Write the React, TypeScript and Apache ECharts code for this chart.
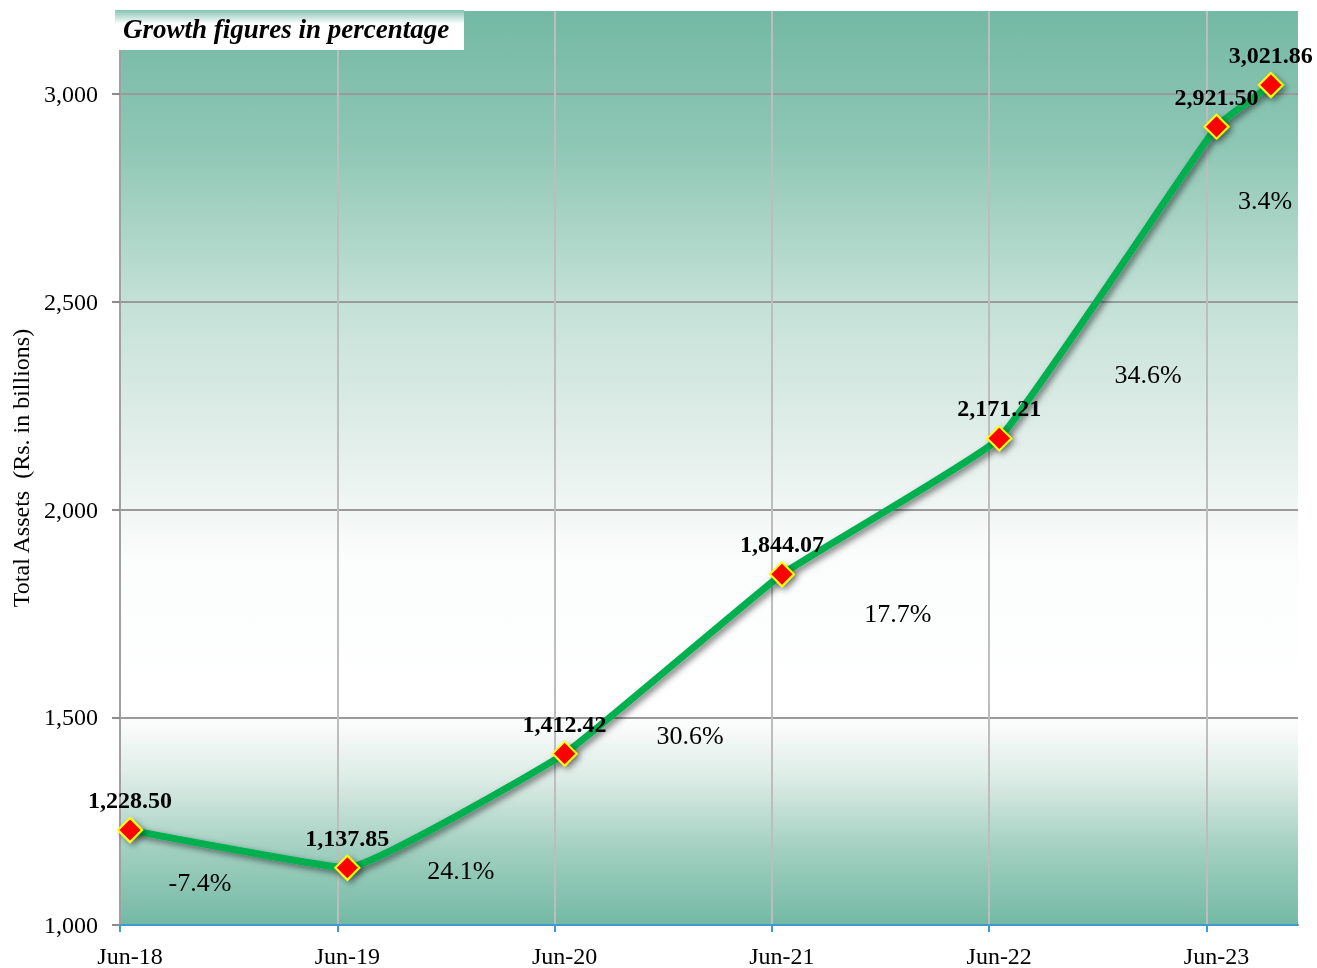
import React, { useEffect, useRef } from "react";
import * as echarts from "echarts";

const periods = ["Jun-18", "Jun-19", "Jun-20", "Jun-21", "Jun-22", "Jun-23", "Sep-23"];
const periodX = [0, 1, 2, 3, 4, 5, 5.25];
const totalAssets = [1228.5, 1137.85, 1412.42, 1844.07, 2171.21, 2921.5, 3021.86];
const tickLabels = ["Jun-18", "Jun-19", "Jun-20", "Jun-21", "Jun-22", "Jun-23"];
const tickLabelX = [0, 1, 2, 3, 4, 5];
const gridTickX = [-0.046, 0.954, 1.954, 2.954, 3.954, 4.954];
const yTicks = [1000, 1500, 2000, 2500, 3000];
const growthLabels = ["-7.4%", "24.1%", "30.6%", "17.7%", "34.6%", "3.4%"];
const growthX = [0.322, 1.523, 2.577, 3.534, 4.685, 5.223];
const growthY = [1103, 1132, 1457, 1750, 2324, 2743];

const FONT = "Liberation Serif";

export default function App() {
  const ref = useRef<HTMLDivElement>(null);
  useEffect(() => {
    if (!ref.current) return;
    const chart = echarts.init(ref.current, undefined, { renderer: "svg" });
    const bg = new echarts.graphic.LinearGradient(0, 0, 0, 1, [
      { offset: 0, color: "#73b9a4" },
      { offset: 0.15, color: "#8fc7b5" },
      { offset: 0.32, color: "#c4e1d7" },
      { offset: 0.48, color: "#e4efeb" },
      { offset: 0.6, color: "#fbfdfc" },
      { offset: 0.77, color: "#ffffff" },
      { offset: 0.84, color: "#dcebe5" },
      { offset: 0.92, color: "#a0cfbf" },
      { offset: 1, color: "#73b9a4" },
    ]);
    chart.setOption({
      animation: false,
      grid: {
        left: 120,
        right: 19,
        top: 11,
        bottom: 41,
        show: true,
        borderWidth: 0,
        backgroundColor: bg,
      },
      xAxis: {
        type: "value",
        min: -0.046,
        max: 5.375,
        axisLine: { show: true, onZero: false, lineStyle: { color: "#3d9bd1", width: 2 } },
        axisTick: {
          show: true,
          customValues: gridTickX,
          length: 7,
          lineStyle: { color: "#3d9bd1", width: 2 },
        },
        axisLabel: {
          customValues: tickLabelX,
          formatter: (v: number) => {
            const i = tickLabelX.findIndex((t) => Math.abs(t - v) < 1e-6);
            return i >= 0 ? tickLabels[i] : "";
          },
          fontFamily: FONT,
          fontSize: 24,
          color: "#000",
          margin: 19,
        },
        splitLine: { show: true, lineStyle: { color: "#bdbdbd", width: 2 } },
      },
      yAxis: {
        type: "value",
        min: 1000,
        max: 3200,
        name: "Total Assets  (Rs. in billions)",
        nameLocation: "middle",
        nameGap: 82,
        nameTextStyle: { fontFamily: FONT, fontSize: 24, color: "#000" },
        axisLine: { show: true, onZero: false, lineStyle: { color: "#a0a0a0", width: 2 } },
        axisTick: {
          show: true,
          customValues: yTicks,
          length: 8,
          lineStyle: { color: "#8c8c8c", width: 2 },
        },
        axisLabel: {
          customValues: yTicks,
          formatter: (v: number) => v.toLocaleString("en-US"),
          fontFamily: FONT,
          fontSize: 24,
          color: "#000",
          margin: 22,
        },
        splitLine: { show: true, lineStyle: { color: "#9a9a9a", width: 2 } },
      },
      graphic: [
        {
          type: "rect",
          left: 115,
          top: 10,
          shape: { width: 349, height: 40 },
          style: {
            fill: new echarts.graphic.LinearGradient(0, 0, 0, 1, [
              { offset: 0, color: "#86c3b1" },
              { offset: 0.35, color: "#ffffff" },
              { offset: 1, color: "#ffffff" },
            ]),
          },
          z: 100,
        },
        {
          type: "text",
          left: 123,
          top: 15,
          style: {
            text: "Growth figures in percentage",
            fontFamily: FONT,
            fontSize: 27,
            fontWeight: "bold",
            fontStyle: "italic",
            fill: "#000",
          },
          z: 101,
        },
      ],
      series: [
        {
          type: "line",
          data: periods.map((p, i) => ({ name: p, value: [periodX[i], totalAssets[i]] })),
          smooth: 0.1,
          symbol: "diamond",
          symbolSize: 24,
          lineStyle: {
            color: "#00b050",
            width: 7,
            shadowColor: "rgba(0,0,0,0.5)",
            shadowBlur: 6,
            shadowOffsetX: 3,
            shadowOffsetY: 3,
          },
          itemStyle: {
            color: "#ff0000",
            borderColor: "#ffff00",
            borderWidth: 2,
            shadowColor: "rgba(0,0,0,0.45)",
            shadowBlur: 6,
            shadowOffsetX: 3,
            shadowOffsetY: 3,
          },
          label: {
            show: true,
            position: "top",
            distance: 5,
            formatter: (p: any) =>
              p.value[1].toLocaleString("en-US", { minimumFractionDigits: 2, maximumFractionDigits: 2 }),
            fontFamily: FONT,
            fontSize: 24,
            fontWeight: "bold",
            color: "#000",
          },
          z: 5,
        },
        {
          type: "scatter",
          data: growthLabels.map((g, i) => ({ name: g, value: [growthX[i], growthY[i]] })),
          symbolSize: 1,
          itemStyle: { color: "transparent", opacity: 1 },
          label: {
            show: true,
            position: "inside",
            formatter: (p: any) => p.name,
            fontFamily: FONT,
            fontSize: 26,
            color: "#000",
          },
          z: 4,
        },
      ],
    });
    return () => chart.dispose();
  }, []);
  return (
    <div
      ref={ref}
      style={{ position: "fixed", left: 0, top: 0, width: 1317, height: 968 }}
    />
  );
}
